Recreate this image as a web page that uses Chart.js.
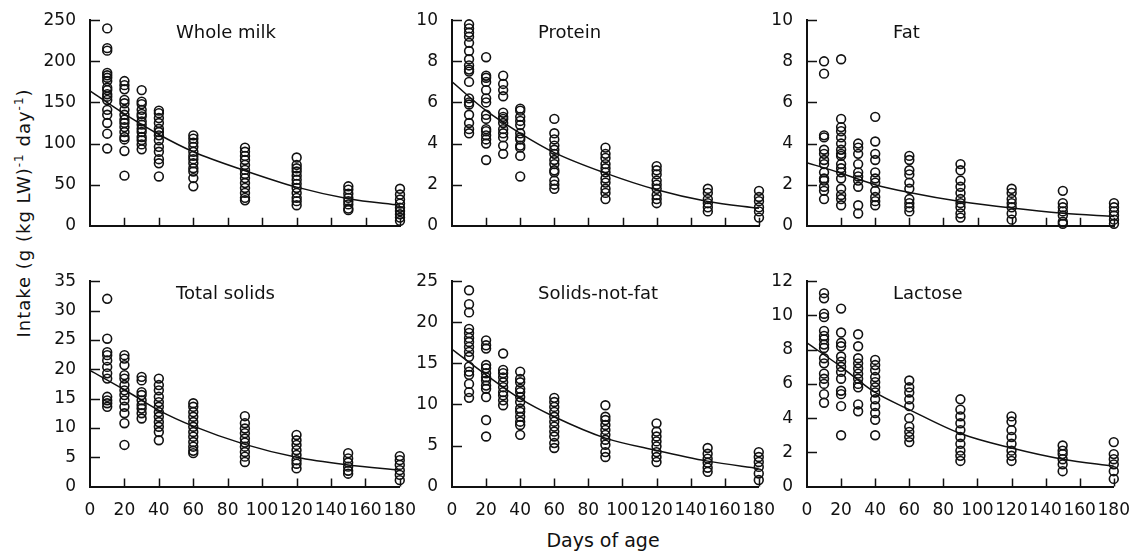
<!DOCTYPE html>
<html>
<head>
<meta charset="utf-8">
<script src="https://cdn.jsdelivr.net/npm/chart.js@4.4.1/dist/chart.umd.min.js"></script>
<style>
    body { margin: 0; background: #fff; width: 1132px; height: 560px; position: relative; overflow: hidden; font-family: "DejaVu Sans", sans-serif; color: #111; }
    canvas { position: absolute; }
    #ytitle { position: absolute; left: 23px; top: 213px; transform: translate(-50%, -50%) rotate(-90deg); white-space: nowrap; font-size: 18px; letter-spacing: 1px; }
    #ytitle sup { font-size: 12px; }
    #xtitle { position: absolute; left: 603px; top: 540px; transform: translate(-50%, -50%); white-space: nowrap; font-size: 19px; }
</style>
</head>
<body>
<div id="ytitle">Intake (g (kg LW)<sup>-1</sup> day<sup>-1</sup>)</div>
<div id="xtitle">Days of age</div>
<script>
// 測定日（日齢）
const days = [10, 20, 30, 40, 60, 90, 120, 150, 180];
// 回帰曲線の読み取り位置
const curveDays = [0, 20, 40, 60, 90, 120, 150, 180];

const milkPoints = [
    [240, 216, 213, 186, 183, 180, 176, 168, 165, 160, 157, 153, 141, 135, 125, 112, 94],
    [176, 171, 166, 153, 149, 141, 135, 129, 125, 120, 114, 108, 105, 91, 61],
    [165, 151, 148, 141, 136, 133, 127, 123, 118, 114, 108, 104, 99, 93],
    [140, 137, 131, 125, 118, 114, 110, 104, 96, 90, 81, 76, 60],
    [110, 106, 101, 96, 90, 85, 81, 76, 70, 66, 58, 48],
    [95, 90, 85, 80, 74, 68, 63, 58, 52, 46, 40, 34, 31],
    [83, 74, 70, 66, 61, 56, 51, 46, 40, 34, 30, 25],
    [48, 44, 39, 34, 30, 26, 21, 19],
    [45, 38, 32, 27, 22, 18, 14, 10, 6]
];
const milkCurve = [164, 136, 111, 90, 67, 47, 33, 25];

const proteinPoints = [
    [9.8, 9.6, 9.4, 9.2, 8.9, 8.5, 8.1, 7.8, 7.6, 7.5, 7.0, 6.2, 6.0, 5.9, 5.4, 5.0, 4.7, 4.5],
    [8.2, 7.3, 7.2, 7.0, 6.6, 6.2, 6.0, 5.4, 5.2, 4.7, 4.6, 4.4, 4.2, 4.0, 3.2],
    [7.3, 6.9, 6.6, 6.3, 5.5, 5.3, 5.2, 5.0, 4.7, 4.5, 4.3, 3.9, 3.5],
    [5.7, 5.6, 5.3, 5.1, 4.9, 4.5, 4.3, 4.2, 3.9, 3.8, 3.4, 2.4],
    [5.2, 4.5, 4.2, 3.9, 3.7, 3.5, 3.2, 3.0, 2.7, 2.6, 2.2, 2.0, 1.8],
    [3.8, 3.5, 3.3, 3.0, 2.8, 2.6, 2.3, 2.1, 1.8, 1.6, 1.3],
    [2.9, 2.7, 2.5, 2.2, 2.0, 1.8, 1.5, 1.3, 1.1],
    [1.8, 1.6, 1.3, 1.1, 0.9, 0.7],
    [1.7, 1.4, 1.2, 0.9, 0.7, 0.4]
];
const proteinCurve = [7.0, 5.6, 4.5, 3.56, 2.56, 1.75, 1.18, 0.85];

const fatPoints = [
    [8.0, 7.4, 4.4, 4.3, 3.7, 3.5, 3.2, 3.0, 2.6, 2.3, 2.2, 1.9, 1.7, 1.3],
    [8.1, 5.2, 4.8, 4.6, 4.3, 4.0, 3.7, 3.5, 3.4, 3.0, 2.8, 2.6, 2.3, 1.8, 1.5, 1.3, 1.0],
    [4.0, 3.8, 3.5, 3.0, 2.6, 2.4, 2.2, 1.9, 1.0, 0.6],
    [5.3, 4.1, 3.5, 3.2, 2.6, 2.3, 2.1, 1.7, 1.4, 1.2, 1.0],
    [3.4, 3.2, 2.7, 2.5, 2.1, 1.8, 1.3, 1.1, 0.9, 0.7],
    [3.0, 2.7, 2.2, 1.9, 1.6, 1.3, 1.1, 0.9, 0.6, 0.4],
    [1.8, 1.6, 1.3, 1.1, 0.9, 0.6, 0.3],
    [1.7, 1.1, 0.9, 0.7, 0.5, 0.2, 0.1],
    [1.1, 0.9, 0.7, 0.5, 0.3, 0.1]
];
const fatCurve = [3.07, 2.56, 2.0, 1.62, 1.18, 0.86, 0.61, 0.45];

const solidsPoints = [
    [32, 25.2, 22.9, 22.4, 21.5, 20.4, 19.3, 18.4, 15.3, 14.7, 14.2, 13.6],
    [22.4, 21.8, 20.7, 19.0, 18.4, 17.3, 16.4, 15.6, 14.7, 13.6, 12.5, 10.8, 7.1],
    [18.7, 18.1, 16.1, 15.6, 14.7, 13.9, 13.3, 12.5, 11.6],
    [18.4, 17.3, 16.4, 15.3, 14.4, 13.6, 12.7, 11.9, 11.0, 10.2, 9.3, 7.9],
    [14.2, 13.6, 12.7, 11.9, 11.0, 10.2, 9.3, 8.5, 7.6, 6.8, 6.1, 5.7],
    [12.0, 10.8, 9.9, 9.1, 8.2, 7.5, 6.8, 5.9, 5.1, 4.2],
    [8.8, 7.9, 7.1, 6.2, 5.4, 4.5, 3.9, 3.1],
    [5.7, 4.8, 4.1, 3.4, 2.7, 2.2],
    [5.2, 4.5, 3.7, 2.8, 2.0, 1.1]
];
const solidsCurve = [19.8, 16.5, 13.0, 10.3, 7.2, 5.0, 3.7, 2.8];

const snfPoints = [
    [23.9, 22.2, 21.2, 19.2, 18.7, 18.1, 17.6, 17.0, 16.4, 15.8, 14.6, 14.0, 13.6, 12.5, 11.5, 10.8],
    [17.8, 17.2, 16.8, 14.8, 14.4, 13.8, 13.3, 12.9, 12.3, 11.9, 10.9, 8.1, 6.1],
    [16.2, 14.2, 13.8, 13.3, 12.7, 12.1, 11.5, 11.1, 10.5, 9.9],
    [14.0, 13.1, 12.7, 11.9, 11.5, 10.9, 10.3, 9.5, 9.1, 8.5, 7.9, 7.5, 6.3],
    [10.8, 10.3, 9.7, 9.1, 8.5, 7.9, 7.3, 6.7, 6.1, 5.3, 4.7],
    [9.9, 8.5, 8.1, 7.5, 6.9, 6.3, 5.7, 5.1, 4.2, 3.6],
    [7.7, 6.7, 6.1, 5.5, 4.9, 4.2, 3.6, 3.0],
    [4.7, 4.0, 3.4, 2.9, 2.3, 1.8],
    [4.2, 3.6, 3.0, 2.4, 1.6, 0.8]
];
const snfCurve = [16.7, 13.6, 10.7, 8.5, 5.9, 4.4, 3.1, 2.2];

const lactosePoints = [
    [11.3, 11.0, 10.1, 9.9, 9.1, 8.8, 8.6, 8.3, 8.1, 7.5, 7.2, 6.6, 6.3, 6.0, 5.4, 4.9],
    [10.4, 9.0, 8.4, 8.2, 7.6, 7.3, 7.0, 6.7, 6.3, 5.6, 5.4, 4.7, 3.0],
    [8.9, 8.2, 7.5, 7.2, 6.9, 6.6, 6.3, 6.0, 5.8, 4.8, 4.4],
    [7.4, 7.1, 6.8, 6.4, 6.1, 5.8, 5.5, 5.1, 4.7, 4.3, 3.9, 3.0],
    [6.2, 5.8, 5.5, 5.1, 4.7, 4.0, 3.5, 3.2, 2.9, 2.6],
    [5.1, 4.5, 4.1, 3.7, 3.3, 2.9, 2.5, 2.1, 1.8, 1.5],
    [4.1, 3.8, 3.3, 2.9, 2.5, 2.1, 1.8, 1.5],
    [2.4, 2.1, 1.9, 1.6, 1.3, 0.9],
    [2.6, 1.9, 1.6, 1.3, 0.9, 0.45]
];
const lactoseCurve = [8.4, 7.0, 5.5, 4.5, 3.1, 2.25, 1.6, 1.2];

const panelTitles = ['Whole milk', 'Protein', 'Fat', 'Total solids', 'Solids-not-fat', 'Lactose'];
const yMax = [250, 10, 10, 35, 25, 12];
const yStep = [50, 2, 2, 5, 5, 2];

const allPoints = [milkPoints, proteinPoints, fatPoints, solidsPoints, snfPoints, lactosePoints];
const allCurves = [milkCurve, proteinCurve, fatCurve, solidsCurve, snfCurve, lactoseCurve];

// プロット領域の位置（ページ座標）
const cols = [[90, 400], [452, 759], [807, 1114]];
const rows = [[20, 226], [281, 487]];

const font = { family: '"DejaVu Sans", sans-serif', size: 17 };

// 内向きの目盛りとパネル名
const innerTicks = {
    id: 'innerTicks',
    afterDraw(chart, args, opts) {
        const { ctx, chartArea: a, scales: { x, y } } = chart;
        ctx.save();
        ctx.strokeStyle = '#111';
        ctx.lineWidth = 1.5;
        ctx.beginPath();
        y.ticks.forEach(t => {
            if (t.value <= y.min) return;
            const py = Math.round(y.getPixelForValue(t.value)) + 0.5;
            ctx.moveTo(a.left, py);
            ctx.lineTo(a.left + 10, py);
        });
        x.ticks.forEach(t => {
            if (t.value <= x.min) return;
            const px = Math.round(x.getPixelForValue(t.value)) + 0.5;
            ctx.moveTo(px, a.bottom);
            ctx.lineTo(px, a.bottom - 8);
        });
        ctx.stroke();
        ctx.fillStyle = '#111';
        ctx.font = '18px "DejaVu Sans", sans-serif';
        ctx.textBaseline = 'middle';
        ctx.fillText(opts.label, a.left + 86, a.top + 13);
        ctx.restore();
    }
};

function makeChart(canvas, i) {
    const title = panelTitles[i];
    const bottomRow = i >= 3;

    const scatter = [];
    days.forEach((d, k) => allPoints[i][k].forEach(v => scatter.push({ x: d, y: v })));
    const curve = curveDays.map((d, k) => ({ x: d, y: allCurves[i][k] }));

    return new Chart(canvas, {
        type: 'scatter',
        data: {
            datasets: [
                {
                    label: title,
                    data: scatter,
                    pointStyle: 'circle',
                    pointRadius: 4.4,
                    pointBorderWidth: 1.6,
                    pointBorderColor: '#111',
                    pointBackgroundColor: 'rgba(0,0,0,0)',
                    clip: false
                },
                {
                    type: 'line',
                    label: 'fit',
                    data: curve,
                    borderColor: '#111',
                    borderWidth: 1.5,
                    pointRadius: 0,
                    cubicInterpolationMode: 'monotone',
                    fill: false
                }
            ]
        },
        options: {
            responsive: false,
            maintainAspectRatio: false,
            animation: false,
            devicePixelRatio: 1,
            layout: { padding: 0 },
            plugins: {
                legend: { display: false },
                tooltip: { enabled: false },
                innerTicks: { label: title }
            },
            scales: {
                x: {
                    type: 'linear',
                    min: 0,
                    max: 180,
                    grid: { display: true, drawOnChartArea: false, drawTicks: false },
                    border: { display: true, color: '#111', width: 2 },
                    ticks: {
                        display: bottomRow,
                        stepSize: 20,
                        autoSkip: false,
                        maxRotation: 0,
                        padding: 14,
                        color: '#111',
                        font: font
                    }
                },
                y: {
                    min: 0,
                    max: yMax[i],
                    afterFit: s => { s.width = 60; },
                    grid: { display: true, drawOnChartArea: false, drawTicks: false },
                    border: { display: true, color: '#111', width: 2 },
                    ticks: {
                        stepSize: yStep[i],
                        padding: 14,
                        color: '#111',
                        font: font
                    }
                }
            }
        },
        plugins: [innerTicks]
    });
}

panelTitles.forEach((title, i) => {
    const [l, r] = cols[i % 3];
    const [t, b] = rows[Math.floor(i / 3)];

    const canvas = document.createElement('canvas');
    canvas.width = (r - l) + 100;
    canvas.height = (b - t) + 80;
    document.body.appendChild(canvas);

    // 一度描いて余白を測り、プロット領域が所定の位置に来るよう作り直す
    let chart = makeChart(canvas, i);
    const a = chart.chartArea;
    const ml = a.left, mt = a.top;
    const mr = canvas.width - a.right, mb = canvas.height - a.bottom;
    chart.destroy();

    canvas.width = (r - l) + ml + mr;
    canvas.height = (b - t) + mt + mb;
    canvas.style.left = (l - ml) + 'px';
    canvas.style.top = (t - mt) + 'px';
    chart = makeChart(canvas, i);
});
</script>
</body>
</html>
